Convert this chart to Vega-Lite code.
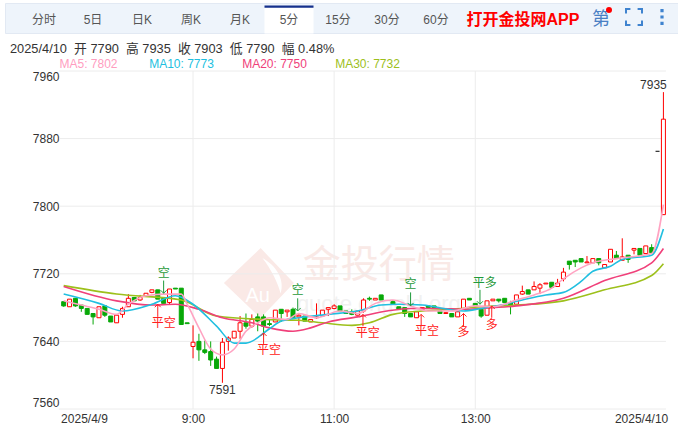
{
"$schema":"https://vega.github.io/schema/vega-lite/v6.json",
"padding":{"left":4,"top":2,"right":0,"bottom":0},
"autosize":{"type":"pad"},
"background":"#ffffff",
"spacing":0,
"bounds":"flush",
"config":{"view":{"stroke":null},"font":"Liberation Sans, Noto Sans CJK SC"},
"datasets":{
"candles":[
{"n":0,"o":7687,"c":7682,"h":7687,"l":7681},{"n":1,"o":7681,"c":7690,"h":7690,"l":7681},{"n":2,"o":7691,"c":7682,"h":7691,"l":7681},{"n":3,"o":7683,"c":7679,"h":7683,"l":7675},{"n":4,"o":7679,"c":7672,"h":7679,"l":7672},{"n":5,"o":7673,"c":7669,"h":7673,"l":7660},{"n":6,"o":7668,"c":7681,"h":7681,"l":7668},{"n":7,"o":7682,"c":7671,"h":7682,"l":7669},{"n":8,"o":7670,"c":7663,"h":7670,"l":7663},{"n":9,"o":7662,"c":7671,"h":7671,"l":7662},
{"n":10,"o":7672,"c":7679,"h":7681,"l":7668},{"n":11,"o":7681,"c":7691,"h":7696,"l":7681},{"n":12,"o":7692,"c":7688,"h":7692,"l":7688},{"n":13,"o":7689,"c":7692,"h":7695,"l":7688},{"n":14,"o":7694,"c":7697,"h":7697,"l":7694},{"n":15,"o":7698,"c":7701,"h":7701,"l":7697},{"n":16,"o":7701,"c":7690,"h":7701,"l":7690},{"n":17,"o":7691,"c":7685,"h":7691,"l":7685},{"n":18,"o":7686,"c":7702,"h":7702,"l":7684},{"n":19,"o":7703,"c":7702,"h":7703,"l":7702},
{"n":20,"o":7703,"c":7660,"h":7703,"l":7660},{"n":21,"o":7662,"c":7661,"h":7662,"l":7661},{"n":22,"o":7634,"c":7639,"h":7659,"l":7620},{"n":23,"o":7640,"c":7630,"h":7649,"l":7617},{"n":24,"o":7630,"c":7627,"h":7641,"l":7625},{"n":25,"o":7628,"c":7618,"h":7640,"l":7611},{"n":26,"o":7619,"c":7608,"h":7622,"l":7608},{"n":27,"o":7608,"c":7639,"h":7644,"l":7591},{"n":28,"o":7640,"c":7644,"h":7646,"l":7629},{"n":29,"o":7644,"c":7652,"h":7652,"l":7644},
{"n":30,"o":7652,"c":7662,"h":7670,"l":7643},{"n":31,"o":7662,"c":7658,"h":7673,"l":7655},{"n":32,"o":7658,"c":7666,"h":7672,"l":7656},{"n":33,"o":7669,"c":7664,"h":7673,"l":7652},{"n":34,"o":7669,"c":7658,"h":7672,"l":7646},{"n":35,"o":7661,"c":7660,"h":7666,"l":7658},{"n":36,"o":7663,"c":7677,"h":7677,"l":7663},{"n":37,"o":7678,"c":7673,"h":7678,"l":7663},{"n":38,"o":7675,"c":7677,"h":7677,"l":7669},{"n":39,"o":7678,"c":7668,"h":7680,"l":7668},
{"n":40,"o":7669,"c":7671,"h":7672,"l":7659},{"n":41,"o":7670,"c":7664,"h":7670,"l":7664},{"n":42,"o":7663,"c":7666,"h":7666,"l":7663},{"n":43,"o":7668,"c":7669,"h":7685,"l":7667},{"n":44,"o":7670,"c":7677,"h":7677,"l":7670},{"n":45,"o":7678,"c":7680,"h":7680,"l":7670},{"n":46,"o":7679,"c":7682,"h":7684,"l":7678},{"n":47,"o":7682,"c":7676,"h":7682,"l":7676},{"n":48,"o":7676,"c":7673,"h":7676,"l":7673},{"n":49,"o":7675,"c":7672,"h":7678,"l":7671},
{"n":50,"o":7671,"c":7676,"h":7676,"l":7671},{"n":51,"o":7676,"c":7689,"h":7691,"l":7674},{"n":52,"o":7691,"c":7690,"h":7693,"l":7688},{"n":53,"o":7689,"c":7691,"h":7691,"l":7689},{"n":54,"o":7695,"c":7689,"h":7695,"l":7689},{"n":56,"o":7687,"c":7684,"h":7689,"l":7684},{"n":57,"o":7681,"c":7678,"h":7681,"l":7678},{"n":58,"o":7680,"c":7673,"h":7680,"l":7669},{"n":59,"o":7673,"c":7669,"h":7673,"l":7669},
{"n":60,"o":7668,"c":7675,"h":7675,"l":7668},{"n":61,"o":7678,"c":7680,"h":7680,"l":7678},{"n":62,"o":7682,"c":7680,"h":7682,"l":7680},{"n":63,"o":7682,"c":7679,"h":7682,"l":7679},{"n":64,"o":7676,"c":7673,"h":7676,"l":7673},{"n":65,"o":7673,"c":7674,"h":7674,"l":7673},{"n":66,"o":7673,"c":7669,"h":7673,"l":7669},{"n":67,"o":7669,"c":7675,"h":7675,"l":7669},{"n":68,"o":7679,"c":7690,"h":7690,"l":7679},{"n":69,"o":7691,"c":7689,"h":7691,"l":7689},
{"n":70,"o":7685,"c":7682,"h":7685,"l":7682},{"n":71,"o":7678,"c":7670,"h":7678,"l":7668},{"n":72,"o":7671,"c":7688,"h":7688,"l":7671},{"n":73,"o":7688,"c":7690,"h":7690,"l":7688},{"n":74,"o":7690,"c":7688,"h":7690,"l":7686},{"n":75,"o":7691,"c":7686,"h":7691,"l":7686},{"n":76,"o":7686,"c":7683,"h":7688,"l":7672},{"n":77,"o":7684,"c":7695,"h":7695,"l":7684},{"n":78,"o":7696,"c":7699,"h":7706,"l":7695},{"n":79,"o":7701,"c":7696,"h":7701,"l":7696},
{"n":80,"o":7701,"c":7705,"h":7711,"l":7701},{"n":81,"o":7703,"c":7707,"h":7709,"l":7696},{"n":82,"o":7708,"c":7709,"h":7709,"l":7708},{"n":83,"o":7710,"c":7704,"h":7710,"l":7704},{"n":84,"o":7705,"c":7709,"h":7714,"l":7705},{"n":85,"o":7714,"c":7722,"h":7727,"l":7711},{"n":86,"o":7735,"c":7731,"h":7735,"l":7725},{"n":87,"o":7736,"c":7734,"h":7736,"l":7728},{"n":88,"o":7738,"c":7734,"h":7738,"l":7734},{"n":89,"o":7733,"c":7734,"h":7741,"l":7733},
{"n":90,"o":7733,"c":7738,"h":7738,"l":7733},{"n":91,"o":7738,"c":7733,"h":7738,"l":7730},{"n":92,"o":7727,"c":7731,"h":7731,"l":7727},{"n":93,"o":7734,"c":7749,"h":7749,"l":7734},{"n":94,"o":7742,"c":7738,"h":7747,"l":7738},{"n":95,"o":7736,"c":7740,"h":7762,"l":7736},{"n":96,"o":7742,"c":7737,"h":7742,"l":7733},{"n":97,"o":7748,"c":7750,"h":7750,"l":7743},{"n":98,"o":7750,"c":7742,"h":7750,"l":7742},{"n":99,"o":7744,"c":7753,"h":7753,"l":7744},
{"n":100,"o":7751,"c":7745,"h":7755,"l":7745},{"n":102,"o":7790,"c":7903,"h":7935,"l":7790}
],
"ma":[
{"s":"MA30","n":0,"v":7706},{"s":"MA30","n":9,"v":7696},{"s":"MA30","n":20,"v":7689},{"s":"MA30","n":26,"v":7670},{"s":"MA30","n":34,"v":7666},{"s":"MA30","n":40,"v":7665},{"s":"MA30","n":44,"v":7662},{"s":"MA30","n":49,"v":7659},{"s":"MA30","n":52,"v":7662},{"s":"MA30","n":56,"v":7672},{"s":"MA30","n":61,"v":7676},{"s":"MA30","n":66,"v":7678},{"s":"MA30","n":71,"v":7681},{"s":"MA30","n":77,"v":7683},{"s":"MA30","n":85,"v":7688},{"s":"MA30","n":92,"v":7701},{"s":"MA30","n":100,"v":7718},{"s":"MA30","n":102,"v":7732},
{"s":"MA20","n":0,"v":7705},{"s":"MA20","n":9,"v":7688},{"s":"MA20","n":15,"v":7683},{"s":"MA20","n":19,"v":7684},{"s":"MA20","n":23,"v":7678},{"s":"MA20","n":27,"v":7668},{"s":"MA20","n":32,"v":7662},{"s":"MA20","n":35,"v":7656},{"s":"MA20","n":39,"v":7652},{"s":"MA20","n":42,"v":7656},{"s":"MA20","n":45,"v":7663},{"s":"MA20","n":50,"v":7669},{"s":"MA20","n":55,"v":7676},{"s":"MA20","n":59,"v":7679},{"s":"MA20","n":64,"v":7679},{"s":"MA20","n":68,"v":7678},{"s":"MA20","n":71,"v":7679},{"s":"MA20","n":77,"v":7682},{"s":"MA20","n":85,"v":7691},{"s":"MA20","n":92,"v":7712},{"s":"MA20","n":100,"v":7733},{"s":"MA20","n":102,"v":7750},
{"s":"MA10","n":0,"v":7696},{"s":"MA10","n":6,"v":7685},{"s":"MA10","n":10,"v":7676},{"s":"MA10","n":15,"v":7684},{"s":"MA10","n":19,"v":7694},{"s":"MA10","n":22,"v":7684},{"s":"MA10","n":26,"v":7658},{"s":"MA10","n":29,"v":7638},{"s":"MA10","n":31,"v":7638},{"s":"MA10","n":35,"v":7655},{"s":"MA10","n":37,"v":7664},{"s":"MA10","n":40,"v":7668},{"s":"MA10","n":45,"v":7672},{"s":"MA10","n":50,"v":7676},{"s":"MA10","n":54,"v":7683},{"s":"MA10","n":57,"v":7684},{"s":"MA10","n":61,"v":7683},{"s":"MA10","n":68,"v":7676},{"s":"MA10","n":71,"v":7679},{"s":"MA10","n":75,"v":7684},{"s":"MA10","n":78,"v":7689},{"s":"MA10","n":82,"v":7695},{"s":"MA10","n":85,"v":7698},{"s":"MA10","n":88,"v":7711},{"s":"MA10","n":90,"v":7723},{"s":"MA10","n":93,"v":7729},{"s":"MA10","n":95,"v":7737},{"s":"MA10","n":100,"v":7742},{"s":"MA10","n":102,"v":7773},
{"s":"MA5","n":0,"v":7688},{"s":"MA5","n":3,"v":7683},{"s":"MA5","n":6,"v":7678},{"s":"MA5","n":9,"v":7672},{"s":"MA5","n":11,"v":7684},{"s":"MA5","n":14,"v":7694},{"s":"MA5","n":17,"v":7696},{"s":"MA5","n":20,"v":7696},{"s":"MA5","n":21,"v":7684},{"s":"MA5","n":23,"v":7656},{"s":"MA5","n":25,"v":7631},{"s":"MA5","n":27,"v":7624},{"s":"MA5","n":29,"v":7631},{"s":"MA5","n":31,"v":7652},{"s":"MA5","n":33,"v":7662},{"s":"MA5","n":35,"v":7668},{"s":"MA5","n":38,"v":7666},{"s":"MA5","n":40,"v":7673},{"s":"MA5","n":43,"v":7668},{"s":"MA5","n":47,"v":7676},{"s":"MA5","n":50,"v":7673},{"s":"MA5","n":53,"v":7685},{"s":"MA5","n":56,"v":7689},{"s":"MA5","n":59,"v":7682},{"s":"MA5","n":62,"v":7676},{"s":"MA5","n":66,"v":7676},{"s":"MA5","n":70,"v":7682},{"s":"MA5","n":73,"v":7681},{"s":"MA5","n":77,"v":7689},{"s":"MA5","n":80,"v":7695},{"s":"MA5","n":83,"v":7703},{"s":"MA5","n":85,"v":7714},{"s":"MA5","n":88,"v":7727},{"s":"MA5","n":90,"v":7733},{"s":"MA5","n":94,"v":7738},{"s":"MA5","n":100,"v":7744},{"s":"MA5","n":102,"v":7802}
],
"signals":[
{"label":"空","side":"short","n":17,"tip":7697,"base":7712,"tn":17,"tv":7721},
{"label":"平空","side":"cover","n":16,"tip":7684,"base":7669,"tn":17,"tv":7662},
{"label":"平空","side":"cover","n":34,"tip":7650,"base":7637,"tn":34.9,"tv":7630},
{"label":"空","side":"short","n":39.8,"tip":7676,"base":7691,"tn":39.8,"tv":7701},
{"label":"平空","side":"cover","n":50.9,"tip":7672,"base":7658,"tn":51.7,"tv":7650},
{"label":"空","side":"short","n":59,"tip":7682,"base":7698,"tn":59,"tv":7708},
{"label":"平空","side":"cover","n":60.8,"tip":7672,"base":7658,"tn":61.8,"tv":7652},
{"label":"多","side":"cover","n":68,"tip":7673,"base":7658,"tn":68,"tv":7651},
{"label":"平多","side":"short","n":70.8,"tip":7684,"base":7701,"tn":71.6,"tv":7709},
{"label":"多","side":"cover","n":72.8,"tip":7682,"base":7668,"tn":72.8,"tv":7660}
]
},
"vconcat":[
{"width":674,"height":30,
 "view":{"fill":"#eef4fb","stroke":"#e2e9f3"},
 "data":{"values":[{"tab":"分时"},{"tab":"5日"},{"tab":"日K"},{"tab":"周K"},{"tab":"月K"},{"tab":"5分","active":true},{"tab":"15分"},{"tab":"30分"},{"tab":"60分"}]},
 "layer":[
  {"transform":[{"filter":"datum.active"}],"mark":{"type":"rect","fill":"#ffffff"},
   "encoding":{"x":{"field":"tab","type":"nominal","axis":null,"scale":{"type":"band","paddingInner":0,"paddingOuter":0,"range":[14.5,700.5],"domain":["分时","5日","日K","周K","月K","5分","15分","30分","60分","_","打开金投网APP","第","全屏","更多"]}},
    "y":{"datum":4.5,"type":"quantitative","axis":null,"scale":{"domain":[0,30],"reverse":true}},"y2":{"datum":30.5}}},
  {"transform":[{"filter":"datum.active"}],"mark":{"type":"rect","fill":"#16318c"},
   "encoding":{"x":{"field":"tab","type":"nominal"},
    "y":{"datum":2.5,"type":"quantitative"},"y2":{"datum":4.7}}},
  {"mark":{"type":"text","fontSize":12,"dy":2,"fill":"#555555"},
   "encoding":{"x":{"field":"tab","type":"nominal"},"text":{"field":"tab"}}},
  {"data":{"values":[{"tab":"打开金投网APP"}]},"mark":{"type":"text","fontSize":16,"fontWeight":"bold","fill":"#ff0000","dx":-11,"dy":2},
   "encoding":{"x":{"field":"tab","type":"nominal"},"text":{"field":"tab"}}},
  {"data":{"values":[{"tab":"第"}]},"mark":{"type":"text","fontSize":18,"fill":"#4a7fc4","dx":18,"dy":2},
   "encoding":{"x":{"field":"tab","type":"nominal"},"text":{"field":"tab"}}},
  {"data":{"values":[{"tab":"第"}]},"mark":{"type":"point","filled":true,"fill":"#ff0000","size":36,"opacity":1,"xOffset":26,"yOffset":-8},
   "encoding":{"x":{"field":"tab","type":"nominal"}}},
  {"data":{"values":[{"tab":"全屏"}]},"mark":{"type":"point","filled":false,"stroke":"#3f83cf","strokeWidth":2,"size":256,"opacity":1,"xOffset":2,"yOffset":-1,"shape":"M-1,-0.45L-1,-1L-0.45,-1M0.45,-1L1,-1L1,-0.45M1,0.45L1,1L0.45,1M-0.45,1L-1,1L-1,0.45"},
   "encoding":{"x":{"field":"tab","type":"nominal"}}},
  {"data":{"values":[{"tab":"更多"}]},"mark":{"type":"point","filled":true,"fill":"#3f83cf","size":256,"opacity":1,"xOffset":-19,"yOffset":-1,"shape":"M-0.2,-1H0.2V-0.6H-0.2ZM-0.2,-0.2H0.2V0.2H-0.2ZM-0.2,0.6H0.2V1H-0.2Z"},
   "encoding":{"x":{"field":"tab","type":"nominal"}}}
 ]},
{"width":674,"height":23,
 "data":{"values":[{"info":"2025/4/10\u00a0\u00a0开 7790\u00a0\u00a0高 7935\u00a0\u00a0收 7903\u00a0\u00a0低 7790\u00a0\u00a0幅 0.48%"}]},
 "mark":{"type":"text","align":"left","fontSize":12.8,"fill":"#333333","dx":5,"dy":4.5},
 "encoding":{"x":{"field":"info","type":"nominal","axis":null,"scale":{"type":"band"},"bandPosition":0},"text":{"field":"info"}}},
{"width":674,"height":15,
 "data":{"values":[{"t":"MA5: 7802","s":"MA5"},{"t":"MA10: 7773","s":"MA10"},{"t":"MA20: 7750","s":"MA20"},{"t":"MA30: 7732","s":"MA30"}]},
 "mark":{"type":"text","fontSize":12},
 "encoding":{"x":{"field":"t","type":"nominal","sort":null,"axis":null,"scale":{"type":"band","range":[37,409],"paddingInner":0,"paddingOuter":0}},
  "text":{"field":"t"},
  "color":{"field":"s","type":"nominal","legend":null,"scale":{"domain":["MA5","MA10","MA20","MA30"],"range":["#ff9dbf","#21bfe0","#f0407a","#9dc01b"]}}}},
{"width":674,"height":338,
 "layer":[
  {"data":{"values":[{"n":33.2,"v":7709}]},"mark":{"type":"point","filled":true,"fill":"#fae9e6","opacity":1,"size":4900,"shape":"M-1,0L0.05,-1L1,0L0.05,1Z"},
   "encoding":{"x":{"field":"n","type":"quantitative","title":null,"scale":{"domain":[-9.98,104.65],"nice":false,"zero":false,"padding":0},
     "axis":{"values":[3.45,22,46,70,98.2],"labelExpr":"datum.value<10?'2025/4/9':datum.value==22?'9:00':datum.value==46?'11:00':datum.value==70?'13:00':'2025/4/10'","labelFontSize":12,"labelColor":"#333333","labelPadding":4,"ticks":false,"domain":false,"grid":false,"labelOverlap":false,"labelFlush":false}},
    "y":{"field":"v","type":"quantitative","title":null,"scale":{"domain":[7560,7960],"nice":false,"zero":false,"padding":0},
     "axis":{"values":[7560,7640,7720,7800,7880,7960],"format":"d","orient":"left","offset":-54,"labelFontSize":12,"labelColor":"#333333","labelPadding":0,"ticks":false,"domain":false,"grid":false,"labelFlush":true}}}},
  {"data":{"values":[{"n":33.2,"v":7709}]},"mark":{"type":"point","filled":true,"fill":"#ffffff","opacity":1,"size":4900,"shape":"M0.1,-0.72C0.5,-0.5 0.75,-0.1 0.62,0.3C0.55,0 0.35,-0.4 0.1,-0.72Z"},
   "encoding":{"x":{"field":"n","type":"quantitative"},"y":{"field":"v","type":"quantitative"}}},
  {"data":{"values":[{"n":33,"v":7694,"t":"Au"}]},"mark":{"type":"text","fontSize":20,"fill":"#ffffff"},
   "encoding":{"x":{"field":"n","type":"quantitative"},"y":{"field":"v","type":"quantitative"},"text":{"field":"t"}}},
  {"data":{"values":[{"n":53.6,"v":7729,"t":"金投行情"}]},"mark":{"type":"text","fontSize":38,"fontWeight":"normal","font":"Noto Sans CJK SC","fill":"#f9e9e6"},
   "encoding":{"x":{"field":"n","type":"quantitative"},"y":{"field":"v","type":"quantitative"},"text":{"field":"t"}}},
  {"data":{"values":[{"n":53.6,"v":7684,"t":"quote.cngold.org"}]},"mark":{"type":"text","fontSize":22,"fill":"#f1f1f1"},
   "encoding":{"x":{"field":"n","type":"quantitative"},"y":{"field":"v","type":"quantitative"},"text":{"field":"t"}}},
  {"data":{"values":[{"v":7560},{"v":7640},{"v":7720},{"v":7800},{"v":7880},{"v":7960}]},"mark":{"type":"rule","stroke":"#ececec"},
   "encoding":{"x":{"datum":-0.8,"type":"quantitative"},"x2":{"datum":102.43},"y":{"field":"v","type":"quantitative"}}},
  {"data":{"values":[{"n":22},{"n":46},{"n":70}]},"mark":{"type":"rule","stroke":"#ececec"},
   "encoding":{"x":{"field":"n","type":"quantitative"},"y":{"datum":7560,"type":"quantitative"},"y2":{"datum":7960}}},
  {"data":{"name":"candles"},"mark":{"type":"rule","strokeWidth":1},
   "encoding":{"x":{"field":"n","type":"quantitative"},"y":{"field":"l","type":"quantitative"},"y2":{"field":"h"},
    "stroke":{"condition":{"test":"datum.c>=datum.o","value":"#ff0000"},"value":"#08a808"}}},
  {"data":{"name":"candles"},"mark":{"type":"bar","size":4,"strokeWidth":1,"opacity":1},
   "encoding":{"x":{"field":"n","type":"quantitative"},"y":{"field":"o","type":"quantitative"},"y2":{"field":"c"},
    "fill":{"condition":{"test":"datum.c>=datum.o","value":"#ffffff"},"value":"#08a808"},
    "stroke":{"condition":{"test":"datum.c>=datum.o","value":"#ff0000"},"value":"#08a808"}}},
  {"data":{"values":[{"n":101,"v":7865}]},"mark":{"type":"tick","orient":"horizontal","size":4,"thickness":1,"color":"#000000","opacity":1},
   "encoding":{"x":{"field":"n","type":"quantitative"},"y":{"field":"v","type":"quantitative"}}},
  {"data":{"name":"ma"},"mark":{"type":"line","interpolate":"monotone","strokeWidth":1.6},
   "encoding":{"x":{"field":"n","type":"quantitative"},"y":{"field":"v","type":"quantitative"},"detail":{"field":"s"},
    "color":{"field":"s","type":"nominal","legend":null,"scale":{"domain":["MA5","MA10","MA20","MA30"],"range":["#ffa3c2","#21bfe0","#f0407a","#9dc01b"]}},
    "order":{"field":"n"}}},
  {"data":{"name":"signals"},"mark":{"type":"rule","strokeWidth":1},
   "encoding":{"x":{"field":"n","type":"quantitative"},"y":{"field":"tip","type":"quantitative"},"y2":{"field":"base"},
    "stroke":{"field":"side","type":"nominal","legend":null,"scale":{"domain":["short","cover"],"range":["#1f9a3a","#ff2020"]}}}},
  {"data":{"name":"signals"},"transform":[{"filter":"datum.side=='cover'"}],"mark":{"type":"point","filled":false,"opacity":1,"stroke":"#ff2020","strokeWidth":1,"size":36,"shape":"M-1,1L0,0L1,1"},
   "encoding":{"x":{"field":"n","type":"quantitative"},"y":{"field":"tip","type":"quantitative"}}},
  {"data":{"name":"signals"},"transform":[{"filter":"datum.side=='short'"}],"mark":{"type":"point","filled":false,"opacity":1,"stroke":"#1f9a3a","strokeWidth":1,"size":36,"shape":"M-1,-1L0,0L1,-1"},
   "encoding":{"x":{"field":"n","type":"quantitative"},"y":{"field":"tip","type":"quantitative"}}},
  {"data":{"name":"signals"},"mark":{"type":"text","fontSize":12,"font":"Noto Sans CJK SC"},
   "encoding":{"x":{"field":"tn","type":"quantitative"},"y":{"field":"tv","type":"quantitative"},"text":{"field":"label"},
    "color":{"field":"side","type":"nominal","legend":null,"scale":{"domain":["short","cover"],"range":["#1f9a3a","#ff2020"]}}}},
  {"data":{"values":[{"n":27,"v":7591,"t":"7591"}]},"mark":{"type":"text","fontSize":12,"fill":"#333333","dy":7,"baseline":"middle"},
   "encoding":{"x":{"field":"n","type":"quantitative"},"y":{"field":"v","type":"quantitative"},"text":{"field":"t"}}},
  {"data":{"values":[{"n":102,"v":7935,"t":"7935"}]},"mark":{"type":"text","fontSize":12,"fill":"#333333","dy":-7,"dx":-10,"baseline":"middle"},
   "encoding":{"x":{"field":"n","type":"quantitative"},"y":{"field":"v","type":"quantitative"},"text":{"field":"t"}}}
 ],
 "resolve":{"scale":{"color":"independent"}}}
]
}
